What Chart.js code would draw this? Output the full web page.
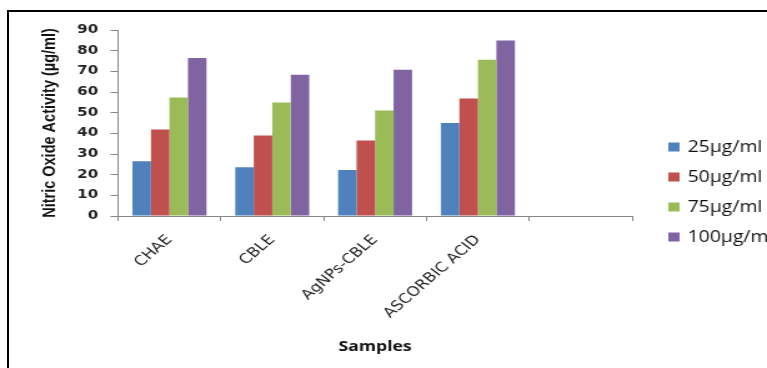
<!DOCTYPE html>
<html>
<head>
<meta charset="utf-8">
<script src="https://cdn.jsdelivr.net/npm/chart.js@4.4.1/dist/chart.umd.min.js"></script>
<style>
  html, body { margin: 0; padding: 0; background: #fff; overflow: hidden; }
  body { width: 767px; height: 368px; position: relative; }
  /* figure frame */
  #frame {
    position: absolute; left: 7px; top: 10px; width: 800px; height: 400px;
    border-left: 2px solid #000; border-top: 2px solid #000; box-sizing: border-box;
  }
  /* the chart is drawn narrower and widened horizontally */
  #wrap {
    position: absolute; left: 0; top: 0; width: 614px; height: 368px;
    transform: scaleX(1.24919); transform-origin: 0 0;
  }
</style>
</head>
<body>
<div id="frame"></div>
<div id="wrap"><canvas id="chart"></canvas></div>
<script>
// Nitric oxide scavenging activity by sample and concentration
const categories = ['CHAE', 'CBLE', 'AgNPs-CBLE', 'ASCORBIC ACID', ''];
const seriesLabels = ['25\u00b5g/ml', '50\u00b5g/ml', '75\u00b5g/ml', '100\u00b5g/ml'];
const conc25  = [26.5, 23.6, 22.2, 45.0, null];
const conc50  = [41.8, 38.9, 36.5, 56.8, null];
const conc75  = [57.3, 54.9, 51.0, 75.6, null];
const conc100 = [76.4, 68.4, 70.8, 84.9, null];
const yTicks = [0, 10, 20, 30, 40, 50, 60, 70, 80, 90];

const colors = ['#4F81BD', '#C0504D', '#9BBB59', '#8064A2'];
const seriesValues = [conc25, conc50, conc75, conc100];

// legend drawn at the right of the plot, stacked vertically
const sideLegend = {
  id: 'sideLegend',
  afterDraw(chart) {
    const ctx = chart.ctx;
    ctx.save();
    ctx.font = '15.5px "Open Sans"';
    ctx.textBaseline = 'middle';
    ctx.textAlign = 'left';
    chart.data.datasets.forEach((ds, i) => {
      const y = 147 + i * 30;
      ctx.fillStyle = ds.backgroundColor;
      ctx.fillRect(535, y - 4.5, 9, 9);
      ctx.fillStyle = '#111';
      ctx.fillText(ds.label, 550.5, y + 1);
    });
    ctx.restore();
  }
};

new Chart(document.getElementById('chart'), {
  type: 'bar',
  data: {
    labels: categories,
    datasets: seriesValues.map((vals, i) => ({
      label: seriesLabels[i],
      data: vals,
      backgroundColor: colors[i],
      borderWidth: 0,
      categoryPercentage: 0.72,
      barPercentage: 1.0
    }))
  },
  options: {
    responsive: true,
    maintainAspectRatio: false,
    animation: false,
    devicePixelRatio: 1,
    layout: { padding: { left: 0, right: 108, top: 30, bottom: 0 } },
    plugins: {
      legend: { display: false },
      tooltip: { enabled: false }
    },
    scales: {
      x: {
        afterFit(scale) { scale.height = 152; },
        border: { display: true, color: '#868686', width: 1 },
        grid: { display: true, drawOnChartArea: false, offset: true, tickLength: 5, color: '#868686' },
        ticks: {
          minRotation: 47, maxRotation: 47, padding: 11,
          color: '#222',
          font: { family: '"DejaVu Sans"', size: 13.5 }
        },
        title: {
          display: true, text: 'Samples', color: '#111',
          font: { family: '"Open Sans"', size: 14, weight: 'bold' },
          padding: { top: 0, bottom: 13 }
        }
      },
      y: {
        min: 0, max: 90,
        afterFit(scale) { scale.width = 94.5; },
        afterBuildTicks(scale) { scale.ticks = yTicks.map(v => ({ value: v })); },
        border: { display: true, color: '#868686', width: 1 },
        grid: { display: true, drawOnChartArea: false, tickLength: 6, color: '#868686' },
        ticks: {
          padding: 10, color: '#222',
          font: { family: '"DejaVu Sans"', size: 12, weight: 'bold' }
        },
        title: {
          display: true, text: 'Nitric Oxide Activity (\u00b5g/ml)', color: '#111',
          font: { family: '"Liberation Sans"', size: 14.5, weight: 'bold' },
          padding: { top: 31, bottom: 0 }
        }
      }
    }
  },
  plugins: [sideLegend]
});
</script>
</body>
</html>
